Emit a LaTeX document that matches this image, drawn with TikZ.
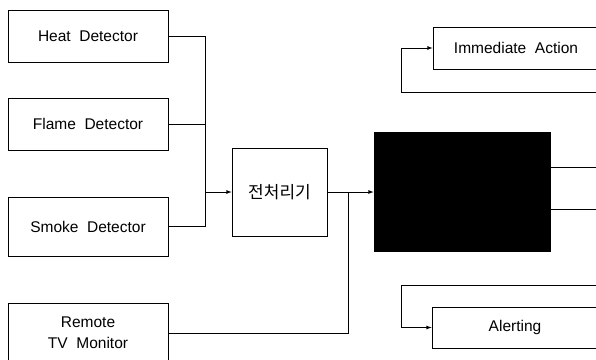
\documentclass[tikz,border=0pt]{standalone}
\usepackage{fontspec}
\setmainfont{Liberation Sans}
\newfontfamily\kr{Noto Sans CJK KR}
\begin{document}
\begin{tikzpicture}[x=1pt,y=-1pt,line width=0.8pt,>=latex,
  blk/.style={draw,minimum width=#1,inner sep=0pt,font=\fontsize{15.5}{21}\selectfont},
  blk/.default=160pt]
\useasboundingbox (0,0) rectangle (596,359);
\clip (0,0) rectangle (596,359);
% sensors
\node[blk,minimum height=52pt] (heat) at (88,36) {Heat\ \ Detector};
\node[blk,minimum height=52pt] (flame) at (88,124) {Flame\ \ Detector};
\node[blk,minimum height=59pt] (smoke) at (88,226.5) {Smoke\ \ Detector};
\node[blk,minimum height=60pt,align=center] (remote) at (88,333) {Remote\\TV\ \ Monitor};
% processing
\node[blk=95pt,minimum height=88pt] (pre) at (279.5,192) {\kr\fontsize{17}{20}\selectfont 전처리기};
\node[draw,fill=black,minimum width=176pt,minimum height=119pt] (dark) at (462,192) {};
% outputs
\node[blk=166pt,minimum height=42pt] (imm) at (516,48) {Immediate\ \ Action};
\node[blk=166pt,minimum height=41pt] (alert) at (515,327.5) {Alerting};
\coordinate (j1) at (205,192);
\coordinate (j2) at (348,192);
\coordinate (o1) at (596,167);
\coordinate (o2) at (596,209);
\coordinate (ia) at (596,92);
\coordinate (ic) at (401,92);
\coordinate (aa) at (596,285);
\coordinate (ac) at (401,285);
\draw (heat) -| (j1);
\draw (flame) -| (j1);
\draw (smoke) -| (j1);
\draw[->] (j1) -- (pre);
\draw (remote) -| (j2);
\draw (pre) -- (j2);
\draw[->] (j2) -- (dark);
\draw (dark.east |- o1) -- (o1);
\draw (dark.east |- o2) -- (o2);
\draw[->] (ia) -- (ic) |- (imm);
\draw[->] (aa) -- (ac) |- (alert);
\end{tikzpicture}
\end{document}
